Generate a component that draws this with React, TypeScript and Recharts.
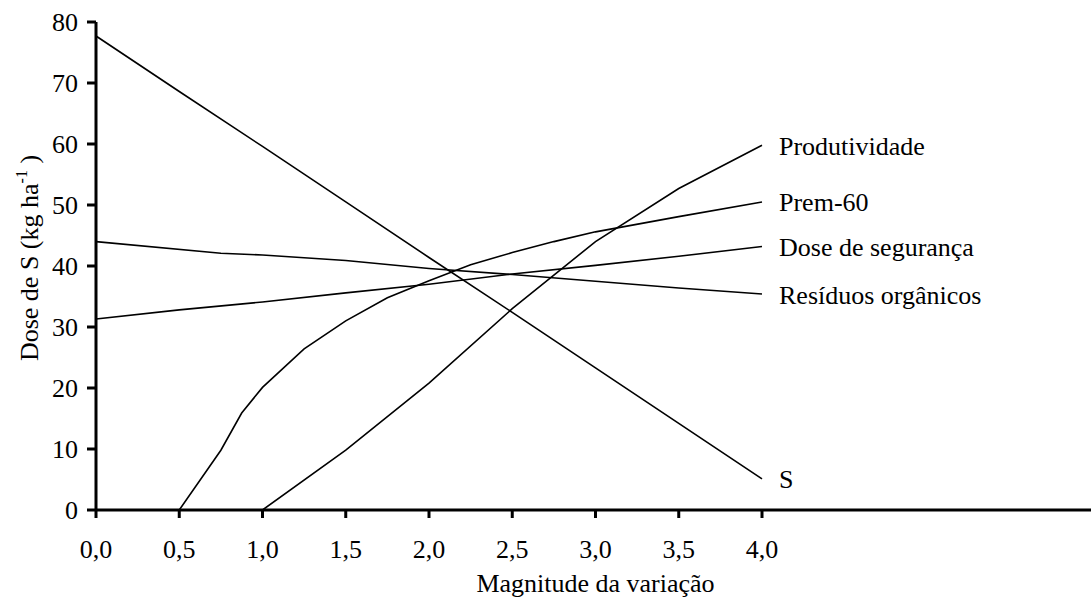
import React from 'react';
import { LineChart, Line, XAxis, YAxis } from 'recharts';

const FONT = '"Liberation Serif", "Times New Roman", Times, serif';

// Axis ticks
const xTicks = [0, 0.5, 1, 1.5, 2, 2.5, 3, 3.5, 4];
const yTicks = [0, 10, 20, 30, 40, 50, 60, 70, 80];

// Series: S
const sX = [0, 0.5, 1, 1.5, 2, 2.5, 3, 3.5, 4];
const sY = [77.7, 68.6, 59.6, 50.5, 41.4, 32.4, 23.3, 14.2, 5.1];

// Series: Produtividade
const prodX = [1.0, 1.5, 2.0, 2.5, 3.0, 3.5, 4.0];
const prodY = [0, 9.8, 20.8, 33.0, 44.0, 52.7, 59.8];

// Series: Prem-60
const premX = [0.5, 0.75, 0.875, 1.0, 1.25, 1.5, 1.75, 2.0, 2.25, 2.5, 2.75, 3.0, 3.5, 4.0];
const premY = [0, 9.8, 15.9, 20.1, 26.4, 31.0, 34.8, 37.6, 40.2, 42.2, 44.0, 45.6, 48.1, 50.5];

// Series: Dose de segurança
const doseX = [0, 0.5, 1, 1.5, 2, 2.5, 3, 3.5, 4];
const doseY = [31.3, 32.8, 34.1, 35.6, 37.0, 38.7, 40.1, 41.6, 43.2];

// Series: Resíduos orgânicos
const resX = [0, 0.75, 1.0, 1.5, 2.0, 2.5, 3.0, 3.5, 4.0];
const resY = [44.0, 42.1, 41.8, 40.9, 39.6, 38.6, 37.5, 36.4, 35.4];

const toPoints = (xs: number[], ys: number[]) => xs.map((x, i) => ({ x, y: ys[i] }));

const series = [
  { name: 'S', data: toPoints(sX, sY) },
  { name: 'Produtividade', data: toPoints(prodX, prodY) },
  { name: 'Prem-60', data: toPoints(premX, premY) },
  { name: 'Dose de segurança', data: toPoints(doseX, doseY) },
  { name: 'Resíduos orgânicos', data: toPoints(resX, resY) },
];

const fmt = (v: number) => v.toFixed(1).replace('.', ',');

const makeEndLabel = (name: string, n: number) => (props: any) => {
  const { cx, cy, index } = props;
  if (index !== n - 1) return <g key={`d-${name}-${index}`} />;
  return (
    <text
      key={`d-${name}-${index}`}
      x={cx + 17}
      y={cy + 9.5}
      fontSize={26}
      fontFamily={FONT}
      fill="#000"
    >
      {name}
    </text>
  );
};

const XLabel = (props: any) => {
  const vb = props.viewBox || { x: 96, y: 510, width: 999, height: 80 };
  return (
    <text
      x={vb.x + vb.width / 2}
      y={vb.y + 82}
      textAnchor="middle"
      fontSize={26}
      fontFamily={FONT}
      fill="#000"
    >
      Magnitude da variação
    </text>
  );
};

const YLabel = (props: any) => {
  const vb = props.viewBox || { x: 0, y: 22, width: 96, height: 488 };
  const cx = 38;
  const cy = vb.y + vb.height / 2 - 8;
  return (
    <text
      x={cx}
      y={cy}
      transform={`rotate(-90, ${cx}, ${cy})`}
      textAnchor="middle"
      fontSize={26}
      fontFamily={FONT}
      fill="#000"
    >
      Dose de S (kg ha
      <tspan fontSize={16} dy={-11}>-1</tspan>
      <tspan dy={11}> )</tspan>
    </text>
  );
};

export default function App() {
  return (
    <div
      style={{
        position: 'absolute',
        left: 0,
        top: 0,
        width: 1091,
        height: 598,
        overflow: 'hidden',
        background: '#fff',
      }}
    >
      <LineChart width={1100} height={598} margin={{ top: 22, right: 5, bottom: 8, left: 0 }}>
        <XAxis
          type="number"
          dataKey="x"
          domain={[0, 6]}
          ticks={xTicks}
          interval={0}
          tickFormatter={fmt}
          height={80}
          tickSize={8}
          tickMargin={22}
          axisLine={{ stroke: '#000', strokeWidth: 3 }}
          tickLine={{ stroke: '#000', strokeWidth: 3 }}
          tick={{ fontSize: 26, fill: '#000', fontFamily: FONT }}
          label={XLabel}
        />
        <YAxis
          type="number"
          domain={[0, 80]}
          ticks={yTicks}
          interval={0}
          width={96}
          tickSize={9}
          tickMargin={9}
          axisLine={{ stroke: '#000', strokeWidth: 3 }}
          tickLine={{ stroke: '#000', strokeWidth: 3 }}
          tick={{ fontSize: 26, fill: '#000', fontFamily: FONT }}
          label={YLabel}
        />
        {series.map((s) => (
          <Line
            key={s.name}
            data={s.data}
            dataKey="y"
            type="linear"
            stroke="#000"
            strokeWidth={1.6}
            dot={makeEndLabel(s.name, s.data.length)}
            activeDot={false}
            isAnimationActive={false}
          />
        ))}
      </LineChart>
    </div>
  );
}
